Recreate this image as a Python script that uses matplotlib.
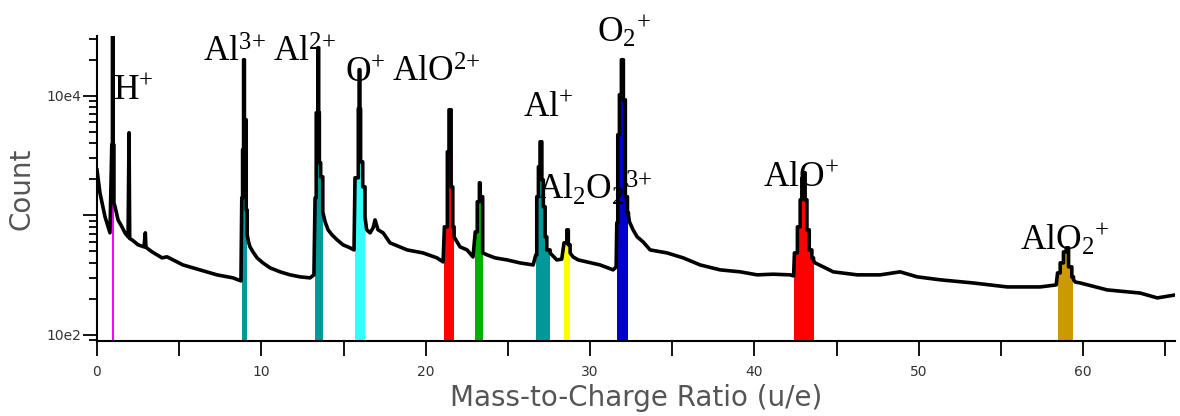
import numpy as np
import matplotlib
matplotlib.use("Agg")
from matplotlib import pyplot as plt
from matplotlib.ticker import MultipleLocator, LogLocator, NullFormatter

plt.rcParams["mathtext.default"] = "regular"

# --- spectrum (m/z in u/e, counts) ---
mz = np.array([
    0.00, 0.18, 0.49, 0.79, 0.90, 0.94, 0.98, 1.03, 1.10, 1.28, 1.52, 1.70, 1.89, 1.95, 1.99,
    2.13, 2.50, 2.86, 2.94, 2.98, 3.35, 3.96, 4.26, 5.23, 6.26, 7.30, 8.28, 8.76,
    8.81, 8.86, 8.92, 8.97, 9.08, 9.14, 9.22, 9.31, 9.49, 9.74, 10.10, 10.53, 11.14, 11.75,
    12.36, 12.96, 13.20,
    13.27, 13.34, 13.44, 13.49, 13.53, 13.61, 13.74, 13.88, 14.06, 14.30, 14.61, 14.97, 15.40, 15.64,
    15.70, 15.90, 15.95, 16.00, 16.04, 16.17, 16.31, 16.41, 16.62, 16.80, 16.92, 17.10, 17.41,
    17.83, 18.87, 19.84, 20.69, 21.06,
    21.14, 21.32, 21.42, 21.55, 21.65, 21.73, 22.09, 22.52, 22.88,
    23.02, 23.14, 23.27, 23.32, 23.47, 23.74, 24.22, 24.95, 25.75, 26.54,
    26.70, 26.76, 26.86, 26.96, 27.07, 27.16, 27.27, 27.37, 27.57, 27.98, 28.28,
    28.42, 28.59, 28.68, 28.79, 28.97, 29.28, 29.58, 30.61, 31.41, 31.59,
    31.63, 31.69, 31.79, 31.91, 32.03, 32.15, 32.28, 32.34, 32.40, 32.62, 32.87, 33.23, 33.66,
    34.69, 35.67, 36.70, 37.92, 39.14, 40.17, 41.14, 42.18, 42.39,
    42.44, 42.62, 42.79, 42.89, 42.99, 43.09, 43.20, 43.34, 43.50, 43.60, 43.70, 44.19, 44.80,
    46.26, 47.66, 48.87, 49.91, 51.31, 53.32, 55.39, 57.39, 58.37,
    58.45, 58.61, 58.81, 58.98, 59.12, 59.32, 59.42, 59.53, 59.83, 61.47, 63.48, 64.52, 65.61,
])
counts = np.array([
    2400, 1540, 970, 714, 3890, 35000, 3890, 1270, 1180, 916, 801, 714, 661, 4900, 640,
    624, 567, 545, 714, 540, 495, 441, 450, 385, 350, 318, 300, 283,
    1400, 3530, 20000, 6300, 1110, 687, 600, 545, 495, 441, 400, 364, 337, 318,
    306, 300, 318,
    1400, 7200, 25200, 7200, 2750, 2100, 1070, 884, 757, 687, 624, 567, 535, 514,
    2060, 7780, 16500, 7780, 2800, 1730, 970, 757, 714, 786, 916, 757, 714,
    589, 514, 485, 441, 408,
    801, 3400, 7640, 1730, 801, 661, 545, 514, 449,
    728, 1300, 1870, 1430, 485, 467, 441, 424, 400, 385,
    467, 1430, 2550, 4120, 1980, 1180, 661, 514, 485, 424, 430,
    589, 757, 567, 485, 449, 424, 415, 385, 350, 371,
    866, 4720, 10200, 20000, 9260, 1430, 1050, 1000, 884, 757, 661, 600, 514,
    485, 441, 385, 350, 337, 318, 322, 318, 312,
    485, 801, 1350, 2060, 2270, 1350, 757, 514, 441, 420, 400, 371, 337,
    318, 318, 337, 306, 289, 272, 252, 252, 262,
    330, 400, 495, 535, 371, 306, 290, 277, 272, 238, 224, 204, 216,
])

# --- coloured ranges ---
range_lo = [0.90, 8.81, 13.27, 15.70, 21.14, 23.02, 26.70, 28.42, 31.63, 42.44, 58.45]
range_hi = [1.03, 9.14, 13.74, 16.31, 21.73, 23.47, 27.57, 28.79, 32.34, 43.60, 59.42]
range_colors = ["#ff00ff", "#009999", "#009999", "#33ffff", "#ff0000", "#00b000",
                "#009999", "#ffff00", "#0000cc", "#ff0000", "#cc9900"]

# --- ion labels ---
ion_labels = [r"H$^{+}$", r"Al$^{3{+}}$", r"Al$^{2{+}}$", r"O$^{+}$", r"AlO$^{2{+}}$", r"Al$^{+}$",
              r"Al$_{2}$O$_{2}{}^{3{+}}$", r"O$_{2}{}^{+}$", r"AlO$^{+}$", r"AlO$_{2}{}^{+}$"]
label_xy = [(0.97, 9260), (6.45, 19300), (10.71, 19300), (15.09, 13100), (17.95, 13100),
            (25.93, 6670), (26.78, 1350), (30.43, 28300), (40.54, 1730), (56.18, 514)]


def in_ranges(x):
    return any(lo <= x < hi for lo, hi in zip(range_lo, range_hi))


# histogram-style steps inside the ion ranges, plain line for the background
px, py = [], []
for i in range(len(mz)):
    px.append(mz[i])
    py.append(counts[i])
    if i + 1 < len(mz) and in_ranges(mz[i]):
        px.append(mz[i + 1])
        py.append(counts[i])
px = np.array(px)
py = np.array(py)

fig = plt.figure(figsize=(11.8, 4.16), dpi=100)
ax = fig.add_axes([0.0822, 0.1803, 0.9958 - 0.0822, 0.9135 - 0.1803])
ax.set_yscale("log")

for lo, hi, c in zip(range_lo, range_hi, range_colors):
    m = (px >= lo) & (px <= hi)
    ax.fill_between(px[m], py[m], 1, color=c, lw=0, zorder=1)

ax.plot(px, py, color="black", lw=2.6, zorder=2)

for txt, (x, y) in zip(ion_labels, label_xy):
    ax.text(x, y, txt, fontsize=25.5, family=["Liberation Serif", "DejaVu Serif"],
            ha="left", va="baseline", color="black", zorder=3)

ax.set_xlim(0, 65.6)
ax.set_ylim(89, 31600)

ax.xaxis.set_major_locator(MultipleLocator(10))
ax.xaxis.set_minor_locator(MultipleLocator(5))
ax.set_yticks([100, 1000, 10000])
ax.set_yticklabels(["10e2", "", "10e4"])
ax.yaxis.set_minor_locator(LogLocator(base=10, subs=range(2, 10)))
ax.yaxis.set_minor_formatter(NullFormatter())

ax.tick_params(axis="x", which="both", direction="out", length=11, width=1.3,
               labelsize=10, labelcolor="#333333", pad=6)
ax.tick_params(axis="y", which="major", direction="out", length=10, width=1.3,
               labelsize=10, labelcolor="#333333", pad=1)
ax.tick_params(axis="y", which="minor", direction="out", length=6, width=1.3)

for side in ["top", "right"]:
    ax.spines[side].set_visible(False)
for side in ["left", "bottom"]:
    ax.spines[side].set_linewidth(1.5)

ax.set_xlabel("Mass-to-Charge Ratio (u/e)", fontsize=20, color="#555555", labelpad=4)
ax.set_ylabel("Count", fontsize=20, color="#555555", labelpad=8)

fig.savefig("out.png", dpi=100)
plt.close(fig)
